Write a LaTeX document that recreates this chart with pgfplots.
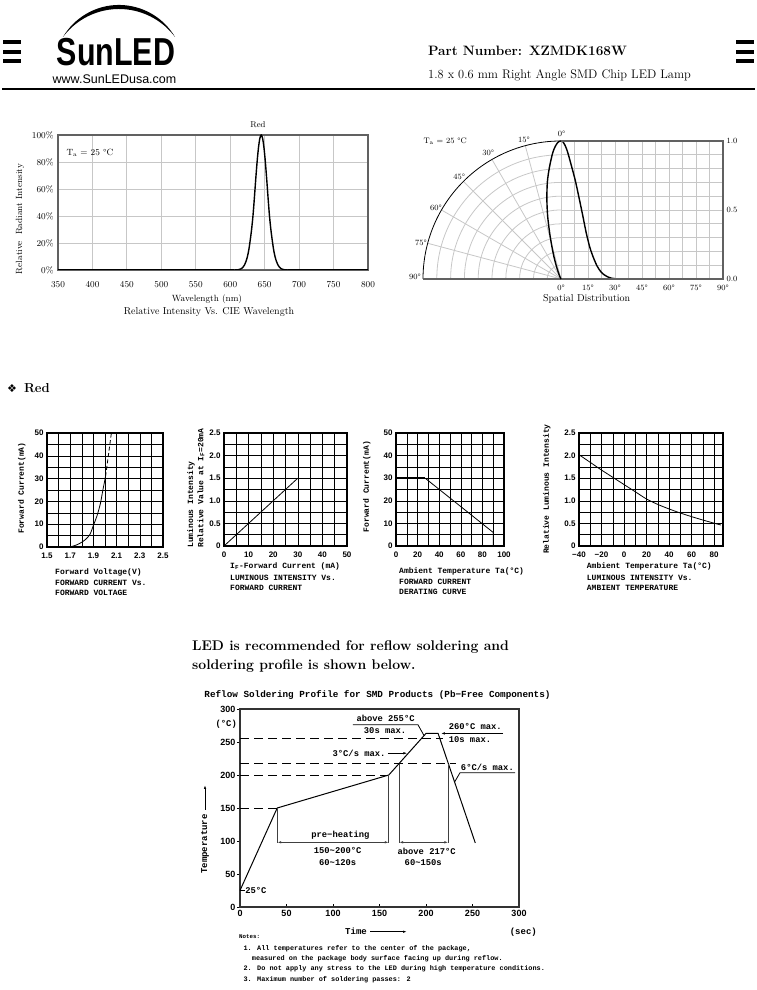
\documentclass[border=0pt]{standalone}
\usepackage{graphicx}
\usepackage{pgfplots}
\pgfplotsset{compat=1.18}
\usepackage{fontspec}
\usetikzlibrary{arrows.meta}
\newfontfamily\sansf{Liberation Sans}
\newfontfamily\monof{Liberation Mono}
\newfontfamily\symf{DejaVu Sans}
\newcommand\fs[1]{\fontsize{#1}{#1}\selectfont}
\newcommand\mb[1]{\monof\bfseries\fs{#1}}
\colorlet{sgrid}{black!22}
\colorlet{sframe}{black!62}

\pgfplotsset{
  small/.style={scale only axis, anchor=south west,
    axis line style={line width=1.1pt},
    grid=both,
    major grid style={black, line width=0.5pt},
    minor grid style={black, line width=0.5pt},
    tick style={draw=none},
    ticklabel style={font=\sansf\bfseries\fs{8}},
    xticklabel style={yshift=-2pt},
    minor x tick num=1, minor y tick num=1},
}
\tikzset{lab/.style={font=\mb{8}, anchor=west, inner sep=0}}

\begin{document}
\begin{tikzpicture}[x=1pt,y=1pt]
\useasboundingbox (0,0) rectangle (757,990);

% ---------- header ----------
\foreach \yy in {945.5,936,926.5} {
  \fill (3,\yy) rectangle (21,\yy+4);
  \fill (736,\yy) rectangle (754,\yy+4);
}
\fill (175,953) arc[start angle=30.5, end angle=149.5, radius=65]
  arc[start angle=143.13, end angle=36.87, radius=70] -- cycle;
\node[anchor=base, inner sep=0] at (116,924) {\scalebox{0.78}[1]{\sansf\bfseries\fs{39}SunLED}};
\node[anchor=base, inner sep=0, font=\sansf\fs{12.5}] at (114.5,906) {www.SunLEDusa.com};
\draw[line width=2pt] (2,900.5) -- (755,900.5);
\node[anchor=base west, inner sep=0, font=\bfseries\fs{13.6}] at (428,934) {Part Number: XZMDK168W};
\node[anchor=base west, inner sep=0, font=\fs{12.4}] at (428,911) {1.8 x 0.6 mm Right Angle SMD Chip LED Lamp};

% ---------- spectrum ----------
\begin{axis}[at={(58pt,720pt)}, anchor=south west, scale only axis,
  width=310pt, height=135pt,
  xmin=350, xmax=800, ymin=0, ymax=100,
  xtick={350,400,450,500,550,600,650,700,750,800},
  xticklabels={350,400,450,500,550,600,650,700,750,800},
  ytick={0,20,40,60,80,100},
  yticklabels={0\%,20\%,40\%,60\%,80\%,100\%},
  grid=major, major grid style={sgrid, line width=0.8pt},
  axis line style={sframe, line width=1.3pt}, tick style={draw=none},
  ticklabel style={font=\fs{9}},
  xticklabel style={yshift=-8pt}, yticklabel style={xshift=-1pt}]
\addplot[black, line width=1.4pt] coordinates {(350,0) (606,0)};
\addplot[black, line width=1.4pt] coordinates {(684,0) (800,0)};
\addplot[black, line width=1.4pt, smooth] coordinates {
  (605,0) (609,0.07) (612,0.25) (615,0.7) (617,1.3) (619,2.4) (621,4)
  (623,6.5) (625,10) (627,15) (629,22) (631,30) (633,40) (635,53)
  (637,67) (639,80) (641,90.5) (643,97.5) (645,100) (647,97.5) (649,90.5)
  (651,80) (653,67) (655,53) (657,40) (659,30) (661,22) (663,15) (665,10)
  (667,6.5) (669,4) (671,2.4) (673,1.3) (675,0.7) (678,0.25) (681,0.07) (685,0)};
\end{axis}
\node[font=\fs{8.5}] at (258,865) {Red};
\node[font=\fs{9}, anchor=west] at (63,837) {T$_{\mathrm{a}}$ = 25 °C};
\node[font=\fs{9}, rotate=90] at (20,771) {Relative\ \ Radiant Intensity};
\node[font=\fs{9}] at (207,691) {Wavelength (nm)};
\node[font=\fs{10}] at (209,678.3) {Relative Intensity Vs. CIE Wavelength};

% ---------- spatial distribution ----------
\foreach \k in {1,...,9}
  \draw[sgrid, line width=0.8pt] (561,711) ++(90:\k*13.8) arc[start angle=90, end angle=180, radius=\k*13.8];
\foreach \a in {105,120,135,150,165}
  \draw[sgrid, line width=0.8pt] (561,711) -- ++(\a:138);
\draw[black, line width=0.8pt] (561,849) arc[start angle=90, end angle=180, radius=138];
\begin{axis}[at={(561pt,711pt)}, anchor=south west, scale only axis,
  width=162pt, height=138pt,
  xmin=0, xmax=90, ymin=0, ymax=1,
  xtick={0,15,30,45,60,75,90}, xticklabels={0°,15°,30°,45°,60°,75°,90°},
  minor x tick num=1,
  ytick={0,0.5,1}, yticklabels={0.0,0.5,1.0}, minor y tick num=4,
  yticklabel pos=right,
  grid=both, major grid style={sgrid, line width=0.8pt},
  minor grid style={sgrid, line width=0.8pt},
  axis line style={draw=none}, tick style={draw=none},
  ticklabel style={font=\fs{8}}, xticklabel style={yshift=-2.5pt}]
\addplot[black, line width=1.4pt, smooth] coordinates {
  (0,1) (1,0.995) (2,0.975) (3,0.945) (4,0.905) (6,0.81) (8,0.71) (10,0.59)
  (12,0.465) (14,0.335) (16,0.23) (18,0.155) (20,0.095) (22,0.055) (24,0.03)
  (26,0.015) (28,0.006) (30,0.002) (33,0)};
\addplot[black, line width=1.4pt] coordinates {(33,0) (90,0)};
\end{axis}
\draw[sframe, line width=1.4pt] (423,711) -- (723,711) -- (723,849) -- (561,849);
\begin{axis}[at={(423pt,711pt)}, anchor=south west, scale only axis,
  width=138pt, height=138pt, xmin=-1, xmax=0, ymin=0, ymax=1,
  hide axis, clip=false]
\addplot[black, line width=1.4pt, smooth] coordinates {
  (0,1) (-0.0174,0.9948) (-0.0340,0.9744) (-0.0495,0.9437) (-0.0632,0.9028)
  (-0.0846,0.8055) (-0.0988,0.7031) (-0.1024,0.5810) (-0.0967,0.4548)
  (-0.0810,0.3251) (-0.0634,0.2211) (-0.0479,0.1474) (-0.0325,0.0893)
  (-0.0206,0.0510) (-0.0122,0.0274) (-0.0066,0.0135) (-0.0028,0.0053) (0,0)};
\end{axis}
\begin{scope}[font=\fs{8}]
\node at (561.7,855.7) {0°};
\node at (524,850) {15°};
\node at (488.3,836.7) {30°};
\node at (459.3,813.3) {45°};
\node at (436,781.7) {60°};
\node at (421,747.3) {75°};
\node at (415,712.7) {90°};
\node[anchor=west] at (420,848.3) {T$_{\mathrm{a}}$ = 25 °C};
\end{scope}
\node[font=\fs{10}] at (586.7,691.5) {Spatial Distribution};

% ---------- section ----------
\node[anchor=west, inner sep=0] at (7,602) {{\symf\fs{11}❖}\hspace{7pt}{\bfseries\fs{13}Red}};

% ---------- chart 1: forward current vs voltage ----------
\begin{axis}[small, at={(47pt,443pt)}, width=116pt, height=114pt,
  xmin=1.5, xmax=2.5, ymin=0, ymax=50,
  xtick={1.5,1.7,1.9,2.1,2.3,2.5}, xticklabels={1.5,1.7,1.9,2.1,2.3,2.5},
  ytick={0,10,20,30,40,50}, yticklabels={0,10,20,30,40,50}]
\addplot[black, line width=0.8pt, smooth] coordinates {
  (1.65,0) (1.72,0.3) (1.78,1.5) (1.83,3.2) (1.87,5.5) (1.90,9.5)
  (1.93,13.5) (1.96,19) (1.98,24.5) (2.005,31)};
\addplot[black, line width=0.8pt, dash pattern=on 4pt off 2.5pt] coordinates {
  (2.005,31) (2.03,40.5) (2.055,50)};
\end{axis}
\node[font=\mb{8}, rotate=90] at (21.7,502) {Forward Current(mA)};
\node[lab] at (55,418) {Forward Voltage(V)};
\node[lab] at (55,407) {FORWARD CURRENT Vs.};
\node[lab] at (55,397) {FORWARD VOLTAGE};

% ---------- chart 2: luminous intensity vs current ----------
\begin{axis}[small, at={(224pt,444pt)}, width=123pt, height=113pt,
  xmin=0, xmax=50, ymin=0, ymax=2.5,
  xtick={0,10,20,30,40,50}, xticklabels={0,10,20,30,40,50},
  ytick={0,0.5,1,1.5,2,2.5}, yticklabels={0,0.5,1.0,1.5,2.0,2.5}]
\addplot[black, line width=0.8pt] coordinates {(0,0) (30,1.5)};
\end{axis}
\node[font=\mb{8}, rotate=90, anchor=west, inner sep=0] at (191,442) {Luminous Intensity};
\node[font=\mb{8}, rotate=90, anchor=west, inner sep=0] at (201,442) {Relative Value at I\textsubscript{F}=20mA};
\node[lab] at (230,423.3) {I\textsubscript{F}-Forward Current (mA)};
\node[lab] at (230,412) {LUMINOUS INTENSITY Vs.};
\node[lab] at (230,402) {FORWARD CURRENT};

% ---------- chart 3: derating ----------
\begin{axis}[small, at={(396pt,444pt)}, width=108pt, height=113pt,
  xmin=0, xmax=100, ymin=0, ymax=50,
  xtick={0,20,40,60,80,100}, xticklabels={0,20,40,60,80,100},
  ytick={0,10,20,30,40,50}, yticklabels={0,10,20,30,40,50}]
\addplot[black, line width=1.6pt] coordinates {(0,30) (27,30)};
\addplot[black, line width=0.8pt] coordinates {(27,30) (90,6) (90,0)};
\end{axis}
\node[font=\mb{8}, rotate=90] at (366.7,503.3) {Forward Current(mA)};
\node[lab] at (399,419) {Ambient Temperature Ta(°C)};
\node[lab] at (399,408) {FORWARD CURRENT};
\node[lab] at (399,398) {DERATING CURVE};

% ---------- chart 4: luminous intensity vs temperature ----------
\begin{axis}[small, at={(579pt,444pt)}, width=144pt, height=113pt,
  xmin=-40, xmax=88, ymin=0, ymax=2.5,
  xtick={-40,-20,0,20,40,60,80}, xticklabels={−40,−20,0,20,40,60,80},
  ytick={0,0.5,1,1.5,2,2.5}, yticklabels={0,0.5,1.0,1.5,2.0,2.5}]
\addplot[black, line width=0.8pt, smooth] coordinates {
  (-40,2.02) (-30,1.85) (-20,1.68) (-10,1.52) (0,1.36) (10,1.2) (20,1.04)
  (30,0.92) (40,0.82) (50,0.73) (60,0.65) (70,0.575) (80,0.505) (86,0.465)};
\end{axis}
\node[font=\mb{8}, rotate=90] at (546.7,501) {Relative Luminous Intensity};
\node[lab] at (586.7,423.3) {Ambient Temperature Ta(°C)};
\node[lab] at (586.7,412) {LUMINOUS INTENSITY Vs.};
\node[lab] at (586.7,402) {AMBIENT TEMPERATURE};

% ---------- reflow text ----------
\node[anchor=base west, inner sep=0, font=\bfseries\fs{14}] at (192,339) {LED is recommended for reflow soldering and};
\node[anchor=base west, inner sep=0, font=\bfseries\fs{14}] at (192,320) {soldering profile is shown below.};
\node[font=\mb{9.3}] at (377.5,295) {Reflow Soldering Profile for SMD Products (Pb−Free Components)};

% ---------- reflow profile ----------
\begin{axis}[at={(240pt,83pt)}, anchor=south west, scale only axis,
  width=279pt, height=198pt,
  xmin=0, xmax=300, ymin=0, ymax=300,
  xtick={0,50,100,150,200,250,300}, ytick={0,50,100,150,200,250,300},
  xticklabels={0,50,100,150,200,250,300}, yticklabels={0,50,100,150,200,250,300},
  xtick pos=left, ytick pos=left, tick align=inside, major tick length=3pt,
  ytick style={xshift=-3pt}, tick style={black, line width=0.8pt},
  axis line style={line width=1.2pt, black!80},
  ticklabel style={font=\sansf\bfseries\fs{9}},
  yticklabel style={xshift=-1pt},
  clip=false]
\addplot[black, line width=1pt] coordinates {
  (0,25) (40,150) (160,200) (200,263) (213,263) (253,97)};
\addplot[black, line width=0.8pt, dash pattern=on 9pt off 5pt] coordinates {(0,150) (40,150)};
\addplot[black, line width=0.8pt, dash pattern=on 9pt off 5pt] coordinates {(0,200) (160,200)};
\addplot[black, line width=0.8pt, dash pattern=on 9pt off 5pt] coordinates {(0,217) (232,217)};
\addplot[black, line width=0.8pt, dash pattern=on 9pt off 5pt] coordinates {(0,255) (218,255)};
\draw[black!75, line width=0.8pt] (axis cs:40,150) -- (axis cs:40,97);
\draw[black!75, line width=0.8pt] (axis cs:160,200) -- (axis cs:160,97);
\draw[black!75, line width=0.8pt] (axis cs:171,217) -- (axis cs:171,97);
\draw[black!75, line width=0.8pt] (axis cs:224,217) -- (axis cs:224,97);
\draw[black!75, line width=0.8pt, {Latex[length=4pt,width=2.5pt]}-{Latex[length=4pt,width=2.5pt]}]
  (axis cs:40,98) -- (axis cs:160,98);
\draw[black!75, line width=0.8pt, {Latex[length=4pt,width=2.5pt]}-{Latex[length=4pt,width=2.5pt]}]
  (axis cs:171,98) -- (axis cs:224,98);
\draw[black, line width=0.8pt] (axis cs:0,25) -- (axis cs:5,25);
\node[font=\mb{8.8}, anchor=west, inner sep=0.5pt] at (axis cs:5,25) {25°C};
\node[font=\mb{8.8}] at (axis cs:108,109) {pre−heating};
\node[font=\mb{8.8}] at (axis cs:105,85) {150\textasciitilde200°C};
\node[font=\mb{8.8}] at (axis cs:105,67) {60\textasciitilde120s};
\node[font=\mb{8.8}] at (axis cs:200.7,85) {above 217°C};
\node[font=\mb{8.8}] at (axis cs:197,67) {60\textasciitilde150s};
\node[font=\mb{8.8}] at (axis cs:156.5,286) {above 255°C};
\node[font=\mb{8.8}] at (axis cs:156,266.7) {30s max.};
\draw[black, line width=0.8pt] (axis cs:121.5,276) -- (axis cs:191.4,276) -- (axis cs:198,259.5);
\node[font=\mb{8.8}] at (axis cs:253,273) {260°C max.};
\node[font=\mb{8.8}] at (axis cs:247.3,253) {10s max.};
\draw[black, line width=0.8pt, -{Latex[length=4pt,width=2.5pt]}] (axis cs:283,263) -- (axis cs:216,263);
\node[font=\mb{8.8}] at (axis cs:128,233) {3°C/s max.};
\draw[black, line width=0.8pt, -{Latex[length=4pt,width=2.5pt]}] (axis cs:159,233) -- (axis cs:180,233);
\node[font=\mb{8.8}] at (axis cs:266,212) {6°C/s max.};
\draw[black, line width=0.8pt] (axis cs:295.7,203.5) -- (axis cs:236.6,203.5) -- (axis cs:231,190);
\end{axis}
\node[font=\mb{8.8}, anchor=east, inner sep=0] at (237,265.7) {(°C)};
\node[font=\mb{9}, rotate=90] at (205,146) {Temperature};
\draw[black, line width=0.8pt, -{Latex[length=4pt,width=2.5pt]}] (205,180) -- (205,205);
\node[font=\mb{9}] at (356,58.3) {Time};
\draw[black, line width=0.8pt, -{Latex[length=4pt,width=2.5pt]}] (370,58.3) -- (407,58.3);
\node[font=\mb{9}] at (523.3,58.3) {(sec)};

% ---------- notes ----------
\node[font=\mb{5.8}, anchor=west, inner sep=0] at (239,53.3) {Notes:};
\node[font=\mb{6.85}, anchor=west, inner sep=0] at (243.3,41.7) {1. All temperatures refer to the center of the package,};
\node[font=\mb{6.85}, anchor=west, inner sep=0] at (251.7,31) {measured on the package body surface facing up during reflow.};
\node[font=\mb{6.85}, anchor=west, inner sep=0] at (243.3,21) {2. Do not apply any stress to the LED during high temperature conditions.};
\node[font=\mb{6.85}, anchor=west, inner sep=0] at (243.3,10.7) {3. Maximum number of soldering passes: 2};
\end{tikzpicture}
\end{document}
